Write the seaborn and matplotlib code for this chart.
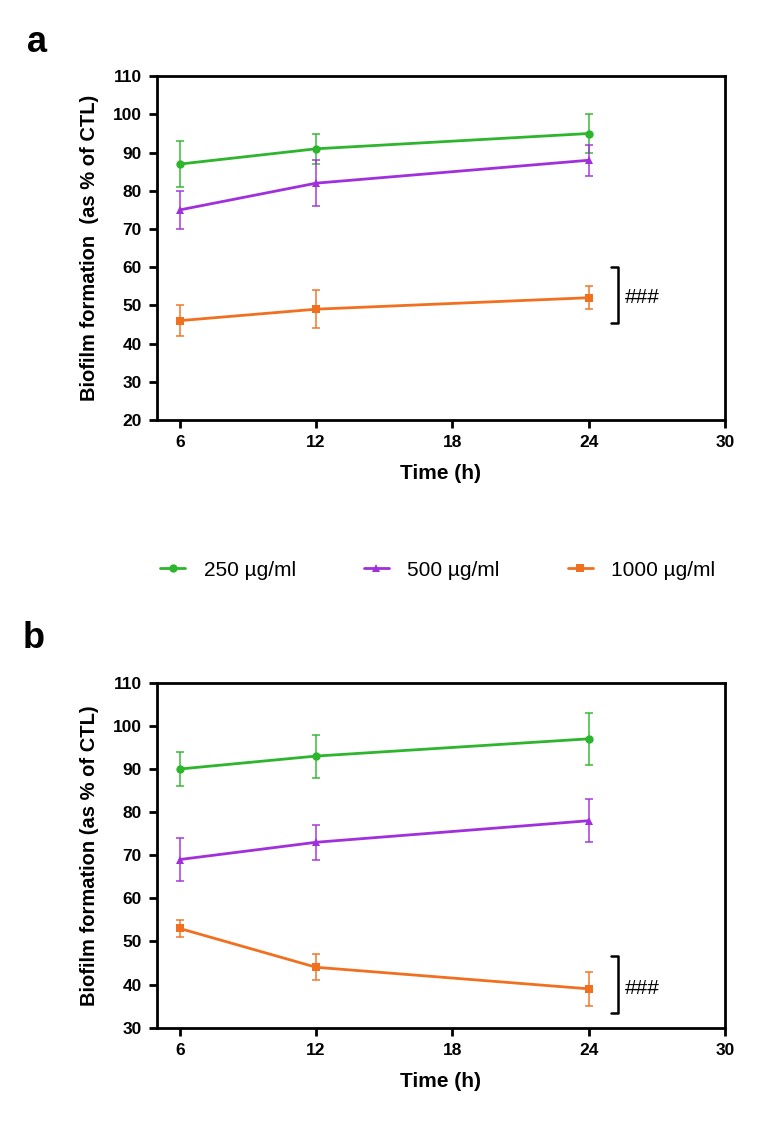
import numpy as np
import pandas as pd
import matplotlib
matplotlib.use('Agg')
import matplotlib.pyplot as plt
import seaborn as sns
from matplotlib.lines import Line2D

sns.set_theme(style="white")
plt.rcParams['font.family'] = ['Liberation Sans', 'DejaVu Sans']
plt.rcParams['text.color'] = 'black'
plt.rcParams['axes.labelcolor'] = 'black'
plt.rcParams['xtick.color'] = 'black'
plt.rcParams['ytick.color'] = 'black'

# Data
times = [6, 12, 24]
series = ['250 µg/ml', '500 µg/ml', '1000 µg/ml']
colors = ['#2db52d', '#a030dc', '#f07020']
markers = ['o', '^', 's']

mean_a = {'250 µg/ml': [87, 91, 95], '500 µg/ml': [75, 82, 88], '1000 µg/ml': [46, 49, 52]}
err_a = {'250 µg/ml': [6, 4, 5], '500 µg/ml': [5, 6, 4], '1000 µg/ml': [4, 5, 3]}
mean_b = {'250 µg/ml': [90, 93, 97], '500 µg/ml': [69, 73, 78], '1000 µg/ml': [53, 44, 39]}
err_b = {'250 µg/ml': [4, 5, 6], '500 µg/ml': [5, 4, 5], '1000 µg/ml': [2, 3, 4]}


def long_df(means, errs):
    rows = []
    for s in series:
        for t, m, e in zip(times, means[s], errs[s]):
            rows.append({'Time': t, 'Value': m, 'Err': e, 'Dose': s})
    return pd.DataFrame(rows)


fig = plt.figure(figsize=(7.59, 11.38), dpi=100)
ax_a = fig.add_axes([0.207, 0.631, 0.748, 0.302])
ax_b = fig.add_axes([0.207, 0.097, 0.748, 0.303])


def draw_panel(ax, df, ylim, bracket, hash_y, ylabel):
    pal = dict(zip(series, colors))
    mk = dict(zip(series, markers))
    sns.lineplot(data=df, x='Time', y='Value', hue='Dose', style='Dose',
                 palette=pal, markers=mk, dashes=False, markersize=6,
                 linewidth=2, markeredgewidth=0, ax=ax, legend=False)
    for s in series:
        d = df[df['Dose'] == s]
        ax.errorbar(d['Time'], d['Value'], yerr=d['Err'], fmt='none',
                    ecolor=pal[s], elinewidth=1.3, capsize=3, capthick=1.3, alpha=0.8)
    ax.set_xlim(5, 30)
    ax.set_ylim(*ylim)
    ax.set_xticks([6, 12, 18, 24, 30])
    ax.set_yticks(np.arange(ylim[0], ylim[1] + 1, 10))
    for sp in ax.spines.values():
        sp.set_color('black')
        sp.set_linewidth(2)
    ax.tick_params(axis='both', direction='out', length=6, width=2, color='black',
                   labelsize=12.5, pad=5, bottom=True, left=True)
    for lab in ax.get_xticklabels() + ax.get_yticklabels():
        lab.set_fontweight('bold')
    ax.set_xlabel('Time (h)', fontsize=15, fontweight='bold', labelpad=10)
    ax.set_ylabel(ylabel, fontsize=14.5, fontweight='bold', labelpad=10)
    # significance bracket
    x0, x1 = 25.0, 25.3
    ax.plot([x0, x1, x1, x0], [bracket[0], bracket[0], bracket[1], bracket[1]],
            color='black', lw=1.8, clip_on=False)
    ax.text(25.6, hash_y, '###', fontsize=15, va='center', ha='left')


draw_panel(ax_a, long_df(mean_a, err_a), (20, 110), (60, 45.5), 52,
           'Biofilm formation  (as % of CTL)')
draw_panel(ax_b, long_df(mean_b, err_b), (30, 110), (46.5, 33.5), 39,
           'Biofilm formation (as % of CTL)')

fig.text(0.035, 0.963, 'a', fontsize=26, fontweight='bold', va='center')
fig.text(0.030, 0.439, 'b', fontsize=26, fontweight='bold', va='center')

handles = [Line2D([0], [0], color=c, marker=m, markersize=6, lw=2, markeredgewidth=0)
           for c, m in zip(colors, markers)]
fig.legend(handles, series, loc='center left', bbox_to_anchor=(0.211, 0.499), ncol=3,
           frameon=False, fontsize=15, handlelength=1.2, handletextpad=0.9,
           columnspacing=3.25, borderpad=0, borderaxespad=0)

fig.savefig('out.png', dpi=100)
